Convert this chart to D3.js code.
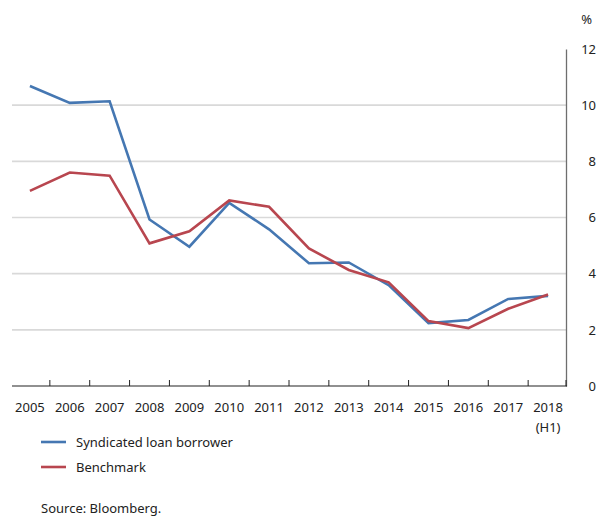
<!DOCTYPE html>
<html>
<head>
<meta charset="utf-8">
<script src="https://cdn.jsdelivr.net/npm/d3@7/dist/d3.min.js"></script>
<style>
  html, body { margin: 0; padding: 0; background: #fff; }
  svg { display: block; font-family: "Noto Sans", "Open Sans", sans-serif; }
</style>
</head>
<body>
<svg id="chart" width="599" height="518"></svg>
<script>
// Years on the x axis
const years = ["2005", "2006", "2007", "2008", "2009", "2010", "2011",
               "2012", "2013", "2014", "2015", "2016", "2017", "2018"];
// Second line under a year label
const yearNotes = ["", "", "", "", "", "", "", "", "", "", "", "", "", "(H1)"];
// Average rate, syndicated loan borrowers (%)
const syndicated = [10.68, 10.08, 10.14, 5.93, 4.96, 6.52, 5.58,
                    4.37, 4.40, 3.59, 2.24, 2.35, 3.10, 3.21];
// Average rate, benchmark (%)
const benchmark = [6.95, 7.60, 7.49, 5.08, 5.51, 6.61, 6.38,
                   4.90, 4.13, 3.69, 2.31, 2.06, 2.75, 3.26];
// Right-hand axis ticks
const yTicks = [0, 2, 4, 6, 8, 10, 12];

const seriesNames = ["Syndicated loan borrower", "Benchmark"];
const seriesColors = ["#4577b2", "#b8464f"];

const svg = d3.select("#chart");

const x = d3.scaleBand().domain(years).range([10, 568]);
const y = d3.scaleLinear().domain([0, 12]).range([386, 49]);

// Horizontal gridlines
svg.append("g")
  .selectAll("line")
  .data(yTicks.filter(d => d > 0 && d < 12))
  .join("line")
  .attr("x1", 12).attr("x2", 566)
  .attr("y1", d => y(d)).attr("y2", d => y(d))
  .attr("stroke", "#d9d9d9").attr("stroke-width", 1.6);

// Right axis
const yAxis = d3.axisRight(y).tickValues(yTicks).tickSize(0).tickPadding(0);
const gy = svg.append("g").attr("transform", "translate(566,0)").call(yAxis);
gy.select(".domain").attr("stroke", "#6e6e6e").attr("stroke-width", 1.3);
gy.selectAll("text")
  .attr("x", 30).attr("text-anchor", "end")
  .attr("font-size", 13).attr("fill", "#222")
  .attr("font-family", "Noto Sans, sans-serif");

svg.append("text")
  .attr("x", 592).attr("y", 24)
  .attr("text-anchor", "end")
  .attr("font-size", 13).attr("fill", "#222")
  .text("%");

// Bottom axis: ticks on band edges, labels at band centres
svg.append("line")
  .attr("x1", 12).attr("x2", 567)
  .attr("y1", y(0)).attr("y2", y(0))
  .attr("stroke", "#222").attr("stroke-width", 1.2);

svg.append("g")
  .selectAll("line")
  .data(years.slice(1).concat(["end"]))
  .join("line")
  .attr("x1", d => d === "end" ? 566 : x(d))
  .attr("x2", d => d === "end" ? 566 : x(d))
  .attr("y1", y(0)).attr("y2", y(0) - 6)
  .attr("stroke", "#222").attr("stroke-width", 1);

const xl = svg.append("g").selectAll("text")
  .data(years)
  .join("text")
  .attr("x", d => x(d) + x.bandwidth() / 2)
  .attr("y", 412)
  .attr("text-anchor", "middle")
  .attr("font-size", 13).attr("fill", "#222");
xl.append("tspan").text(d => d);
xl.append("tspan")
  .attr("x", d => x(d) + x.bandwidth() / 2)
  .attr("dy", 20)
  .text((d, i) => yearNotes[i]);

// Lines
const line = d3.line()
  .x((d, i) => x(years[i]) + x.bandwidth() / 2)
  .y(d => y(d));

[syndicated, benchmark].forEach((vals, k) => {
  svg.append("path")
    .datum(vals)
    .attr("d", line)
    .attr("fill", "none")
    .attr("stroke", seriesColors[k])
    .attr("stroke-width", 2.6)
    .attr("stroke-linejoin", "miter");
});

// Legend
const lg = svg.append("g").selectAll("g")
  .data(seriesNames)
  .join("g")
  .attr("transform", (d, i) => `translate(41,${442 + i * 25})`);
lg.append("line")
  .attr("x1", 0).attr("x2", 25)
  .attr("stroke", (d, i) => seriesColors[i]).attr("stroke-width", 2.6);
lg.append("text")
  .attr("x", 35).attr("y", 4.5)
  .attr("font-size", 13).attr("fill", "#222")
  .text(d => d);

svg.append("text")
  .attr("x", 41).attr("y", 513)
  .attr("font-size", 13).attr("fill", "#222")
  .text("Source: Bloomberg.");
</script>
</body>
</html>
